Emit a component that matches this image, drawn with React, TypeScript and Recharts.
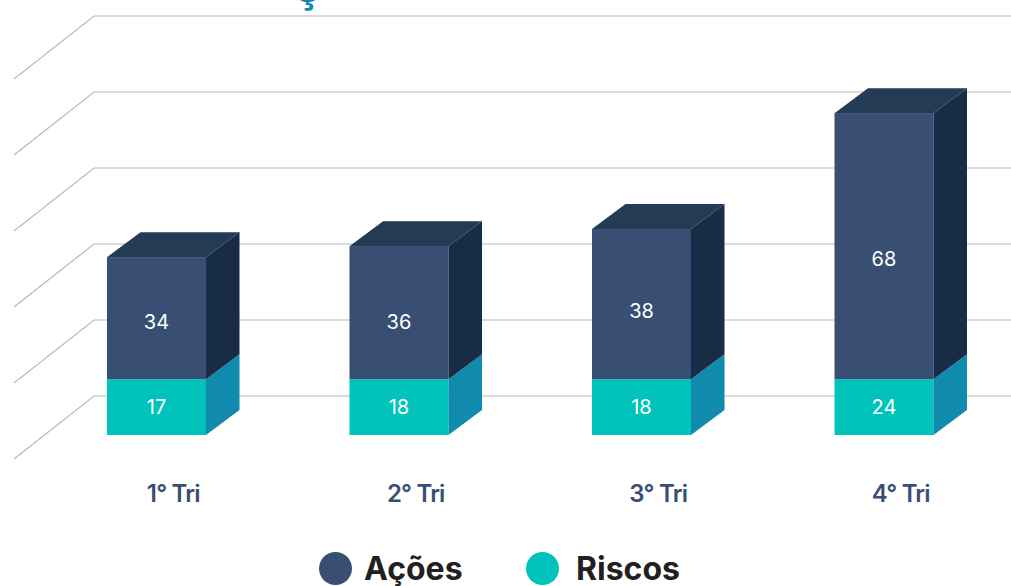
import React from "react";
import { BarChart, Bar, XAxis, YAxis, CartesianGrid, LabelList, Legend } from "recharts";

// Categories and printed values
const quarters = ["1° Tri", "2° Tri", "3° Tri", "4° Tri"];
const acoesLabels = [34, 36, 38, 68];
const riscosLabels = [17, 18, 18, 24];
// Drawn bar heights, in axis units
// (the reference's bars are not exactly proportional to their printed values)
const acoesHeights = [32.1, 35, 39.5, 70];
const riscosHeights = [14.7, 14.7, 14.7, 14.7];
// Back-wall gridlines, in axis units
const wallLevels = [10.26, 30.26, 50.26, 70.26, 90.26, 110.26];

const rows = quarters.map((q, i) => ({
  quarter: q,
  Riscos: riscosHeights[i],
  Ações: acoesHeights[i],
  riscosLabel: riscosLabels[i],
  acoesLabel: acoesLabels[i],
}));

const NAVY = "#384f73";
const TEAL = "#00c4bb";
const FONT = "Inter, 'Noto Sans', sans-serif";
const DX = 33.5;
const DY = -25;
const acoesLabelShift = [3.5, 9, 6.5, 12.5];
const riscosLabelShift = [-0.5, -0.5, -0.5, -0.5];

const Box = (topFill: string | null, sideFill: string) => (p: any) => {
  const { x, y, width: w, height: h, fill } = p;
  return (
    <g>
      <rect x={x} y={y} width={w} height={h} fill={fill} />
      <polygon
        points={`${x + w},${y} ${x + w + DX},${y + DY} ${x + w + DX},${y + h + DY} ${x + w},${y + h}`}
        fill={sideFill}
      />
      {topFill && (
        <>
          <polygon
            points={`${x},${y} ${x + DX},${y + DY} ${x + w + DX},${y + DY} ${x + w},${y}`}
            fill={topFill}
          />
          <line x1={x + w} y1={y} x2={x + w + DX} y2={y + DY} stroke="#3e5875" strokeWidth={0.7} />
        </>
      )}
    </g>
  );
};

const WallLine = (p: any) => {
  const { x1, x2, y1 } = p;
  const left = x1 + 59;
  return (
    <polyline
      points={`${left - 80},${y1 + 63} ${left},${y1} ${x2 + 6},${y1}`}
      fill="none"
      stroke="#b8b8b8"
      strokeWidth={1.2}
    />
  );
};

const QuarterTick = (p: any) => (
  <text
    x={p.x + 17}
    y={p.y + 59}
    textAnchor="middle"
    fill={NAVY}
    fontFamily={FONT}
    fontSize={24}
    fontWeight={600}
    letterSpacing={-0.8}
  >
    {p.payload.value}
  </text>
);

const BarLabel = (shifts: number[]) => (p: any) => (
  <text
    x={p.x + p.width / 2}
    y={p.y + p.height / 2 + shifts[p.index]}
    textAnchor="middle"
    dominantBaseline="central"
    fill="#ffffff"
    fontFamily={FONT}
    fontSize={20}
  >
    {p.value}
  </text>
);

const LegendRow = ({ payload }: any) => {
  const items = ["Ações", "Riscos"].map((n) => (payload || []).find((e: any) => e.value === n)).filter(Boolean);
  const lefts = [319, 526];
  const gaps = [12, 17];
  return (
    <div style={{ position: "relative", height: 36 }}>
      {items.map((e: any, i: number) => (
        <div key={e.value} style={{ position: "absolute", left: lefts[i], top: 0, display: "flex", alignItems: "center", height: 36 }}>
          <span style={{ width: 33, height: 33, borderRadius: "50%", background: e.color, display: "inline-block" }} />
          <span style={{ marginLeft: gaps[i], fontFamily: FONT, fontWeight: 700, fontSize: 32, color: "#231f20", lineHeight: "32px", position: "relative", top: 1 }}>
            {e.value}
          </span>
        </div>
      ))}
    </div>
  );
};

export default function App() {
  return (
    <div style={{ position: "absolute", left: 0, top: 0, width: 1011, height: 586, overflow: "hidden", background: "#fff" }}>
      <BarChart
        width={1011}
        height={586}
        data={rows}
        margin={{ top: 16, right: 6, bottom: 91, left: 35 }}
        barCategoryGap={0}
        style={{ position: "absolute", left: 0, top: 0 }}
      >
        <CartesianGrid vertical={false} horizontal={WallLine} syncWithTicks />
        <XAxis dataKey="quarter" axisLine={false} tickLine={false} height={60} tick={QuarterTick} interval={0} />
        <YAxis hide domain={[0, 110.26]} ticks={wallLevels} interval={0} />
        <Bar dataKey="Riscos" stackId="a" barSize={99} fill={TEAL} isAnimationActive={false} shape={Box(null, "#108aad")}>
          <LabelList dataKey="riscosLabel" content={BarLabel(riscosLabelShift)} />
        </Bar>
        <Bar dataKey="Ações" stackId="a" barSize={99} fill={NAVY} isAnimationActive={false} shape={Box("#233b55", "#182c45")}>
          <LabelList dataKey="acoesLabel" content={BarLabel(acoesLabelShift)} />
        </Bar>
        <Legend
          verticalAlign="middle"
          layout="horizontal"
          content={LegendRow}
          wrapperStyle={{ position: "absolute", left: 0, top: 550, width: 1011, height: 36 }}
        />
      </BarChart>
      <div style={{ position: "absolute", left: 294, top: -36, fontFamily: FONT, fontWeight: 800, fontSize: 44, lineHeight: "44px", color: "#108aad" }}>
        ç
      </div>
    </div>
  );
}
